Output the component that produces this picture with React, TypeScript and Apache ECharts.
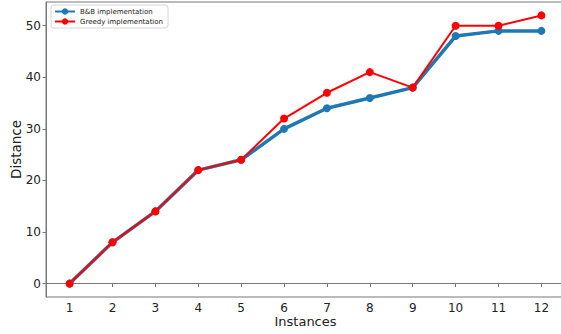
import React, { useEffect, useRef } from "react";
import * as echarts from "echarts";

const instances = [1, 2, 3, 4, 5, 6, 7, 8, 9, 10, 11, 12];
const bbValues = [0, 8, 14, 22, 24, 30, 34, 36, 38, 48, 49, 49];
const greedyValues = [0, 8, 14, 22, 24, 32, 37, 41, 38, 50, 50, 52];
const yTicks = [0, 10, 20, 30, 40, 50];

export default function App() {
  const ref = useRef<HTMLDivElement>(null);
  useEffect(() => {
    if (!ref.current) return;
    const chart = echarts.init(ref.current, null, { renderer: "svg" });
    const font = "DejaVu Sans";
    const axisColor = "#777";
    chart.setOption({
      animation: false,
      backgroundColor: "#fff",
      grid: {
        left: 46,
        top: 2,
        right: -4,
        bottom: 37,
        containLabel: false,
        outerBoundsMode: "none",
        show: true,
        borderColor: axisColor,
        borderWidth: 1,
      },
      legend: {
        orient: "vertical",
        left: 51,
        top: 5,
        padding: [3, 5, 3, 3],
        itemGap: 3,
        itemWidth: 20,
        itemHeight: 8,
        borderColor: "#d6d6d6",
        borderWidth: 1,
        borderRadius: 3,
        backgroundColor: "#fff",
        textStyle: { fontFamily: font, fontSize: 7, color: "#222" },
        data: ["B&B implementation", "Greedy implementation"],
      },
      xAxis: {
        type: "value",
        min: 0.45,
        max: 12.55,
        splitNumber: 12,
        name: "Instances",
        nameLocation: "middle",
        nameGap: 18,
        nameMoveOverlap: false,
        nameTextStyle: { fontFamily: font, fontSize: 13, color: "#222" },
        axisLine: { show: true, lineStyle: { color: axisColor } },
        axisTick: { show: true, length: 3.5, lineStyle: { color: axisColor }, customValues: instances },
        axisLabel: {
          fontFamily: font,
          fontSize: 12,
          color: "#222",
          margin: 5,
          customValues: instances,
        },
        splitLine: { show: false },
      },
      yAxis: {
        type: "value",
        min: -2.6,
        max: 54.6,
        name: "Distance",
        nameLocation: "middle",
        nameGap: 23,
        nameMoveOverlap: false,
        nameTextStyle: { fontFamily: font, fontSize: 13.5, color: "#222" },
        axisLine: { show: true, lineStyle: { color: axisColor } },
        axisTick: { show: true, length: 3.5, lineStyle: { color: axisColor }, customValues: yTicks },
        axisLabel: {
          fontFamily: font,
          fontSize: 12,
          color: "#222",
          margin: 5,
          customValues: yTicks,
        },
        splitLine: { show: false },
      },
      series: [
        {
          name: "B&B implementation",
          type: "line",
          data: instances.map((x, i) => [x, bbValues[i]]),
          symbol: "circle",
          symbolSize: 8,
          lineStyle: { width: 3.5, color: "#1f77b4" },
          itemStyle: { color: "#1f77b4" },
          z: 2,
        },
        {
          name: "Greedy implementation",
          type: "line",
          data: instances.map((x, i) => [x, greedyValues[i]]),
          symbol: "circle",
          symbolSize: 8,
          lineStyle: { width: 2, color: "#ff0000" },
          itemStyle: { color: "#ff0000" },
          z: 3,
        },
      ],
    });
    return () => chart.dispose();
  }, []);
  return (
    <div
      ref={ref}
      style={{ position: "absolute", left: 0, top: 0, width: 561, height: 334 }}
    />
  );
}
